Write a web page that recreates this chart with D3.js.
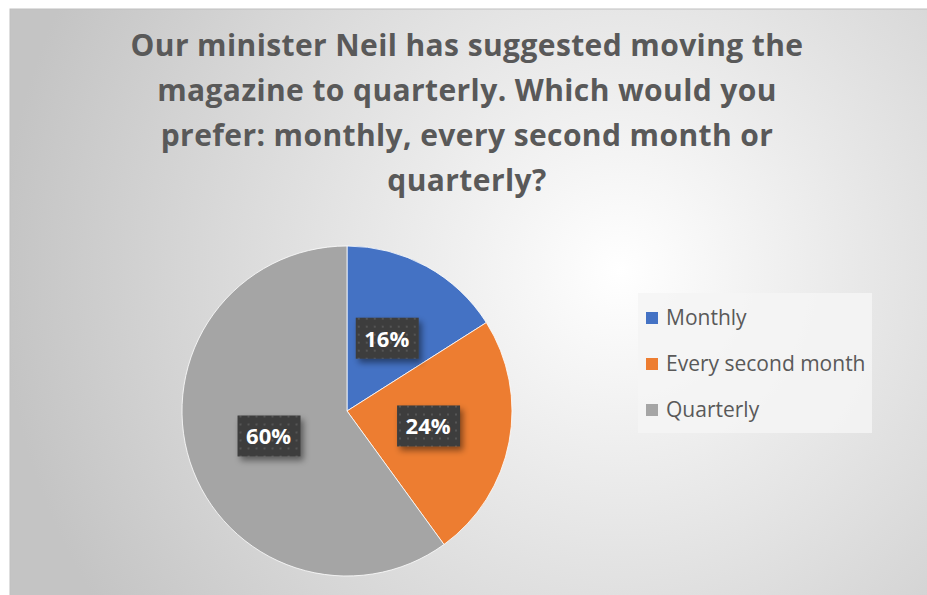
<!DOCTYPE html>
<html lang="en">
<head>
    <meta charset="UTF-8">
    <title>Magazine frequency poll</title>
    <script src="https://d3js.org/d3.v7.min.js"></script>
    <style>
        body { margin: 0; background: white; }
        text { font-family: "Open Sans", "Noto Sans", sans-serif; }
    </style>
</head>
<body>
    <svg id="chart" width="927" height="595"></svg>

    <script>
        // data -------------------------------------------------------------
        const categories = ["Monthly", "Every second month", "Quarterly"];
        const shares = [16, 24, 60];
        const colours = ["#4472C4", "#ED7D31", "#A5A5A5"];
        const titleLines = [
            "Our minister Neil has suggested moving the",
            "magazine to quarterly. Which would you",
            "prefer: monthly, every second month or",
            "quarterly?"
        ];

        const svg = d3.select("svg#chart");
        const defs = svg.append("defs");

        // background gradient
        const grad = defs.append("radialGradient")
            .attr("id", "bg")
            .attr("gradientUnits", "userSpaceOnUse")
            .attr("cx", 620).attr("cy", 270).attr("r", 620);
        grad.append("stop").attr("offset", "0%").attr("stop-color", "#ffffff");
        grad.append("stop").attr("offset", "100%").attr("stop-color", "#c4c4c4");

        // dotted pattern for data labels
        const pat = defs.append("pattern")
            .attr("id", "dots")
            .attr("width", 8).attr("height", 8)
            .attr("patternUnits", "userSpaceOnUse");
        pat.append("rect").attr("width", 8).attr("height", 8).attr("fill", "#3d3d3d");
        pat.append("rect").attr("x", 3).attr("y", 3).attr("width", 2).attr("height", 2).attr("fill", "#555555");

        const shadow = defs.append("filter").attr("id", "shadow")
            .attr("x", "-30%").attr("y", "-30%").attr("width", "170%").attr("height", "170%");
        shadow.append("feDropShadow")
            .attr("dx", 3).attr("dy", 4).attr("stdDeviation", 3)
            .attr("flood-color", "#000").attr("flood-opacity", 0.45);

        svg.append("rect")
            .attr("x", 10).attr("y", 9)
            .attr("width", 940).attr("height", 600)
            .attr("fill", "url(#bg)")
            .attr("stroke", "#bfbfbf").attr("stroke-width", 1);

        // title
        svg.append("g").selectAll("text")
            .data(titleLines)
            .join("text")
            .attr("x", 467)
            .attr("y", (d, i) => 56 + i * 45)
            .attr("text-anchor", "middle")
            .attr("font-size", 30)
            .attr("letter-spacing", 0.4)
            .attr("font-weight", "bold")
            .attr("fill", "#595959")
            .text(d => d);

        // pie ----------------------------------------------------------------
        const radius = 165;
        const pieG = svg.append("g").attr("transform", "translate(347,411)");
        const pie = d3.pie().sort(null).value(d => d);
        const arc = d3.arc().innerRadius(0).outerRadius(radius);
        const arcs = pie(shares);

        pieG.selectAll("path")
            .data(arcs)
            .join("path")
            .attr("d", arc)
            .attr("fill", (d, i) => colours[i])
            .attr("stroke", "#ffffff")
            .attr("stroke-width", 0.8);

        const labels = pieG.selectAll("g.lbl")
            .data(arcs)
            .join("g")
            .attr("class", "lbl")
            .attr("transform", d => `translate(${arc.centroid(d)})`);

        labels.append("rect")
            .attr("x", -31).attr("y", -21)
            .attr("width", 63).attr("height", 41)
            .attr("fill", "url(#dots)")
            .attr("filter", "url(#shadow)");

        labels.append("text")
            .attr("text-anchor", "middle")
            .attr("dy", "0.36em")
            .attr("font-size", 22)
            .attr("font-weight", "bold")
            .attr("fill", "#ffffff")
            .text(d => d.data + "%");

        // legend -------------------------------------------------------------
        const legend = svg.append("g");
        legend.append("rect")
            .attr("x", 638).attr("y", 293)
            .attr("width", 234).attr("height", 140)
            .attr("fill", "#f4f4f4").attr("fill-opacity", 0.85);

        const items = legend.selectAll("g.item")
            .data(categories)
            .join("g")
            .attr("class", "item")
            .attr("transform", (d, i) => `translate(646,${318 + i * 46})`);

        items.append("rect")
            .attr("x", 0).attr("y", -6)
            .attr("width", 12).attr("height", 12)
            .attr("fill", (d, i) => colours[i]);

        items.append("text")
            .attr("x", 20)
            .attr("dy", "0.33em")
            .attr("font-size", 21)
            .attr("fill", "#595959")
            .text(d => d);
    </script>
</body>
</html>
